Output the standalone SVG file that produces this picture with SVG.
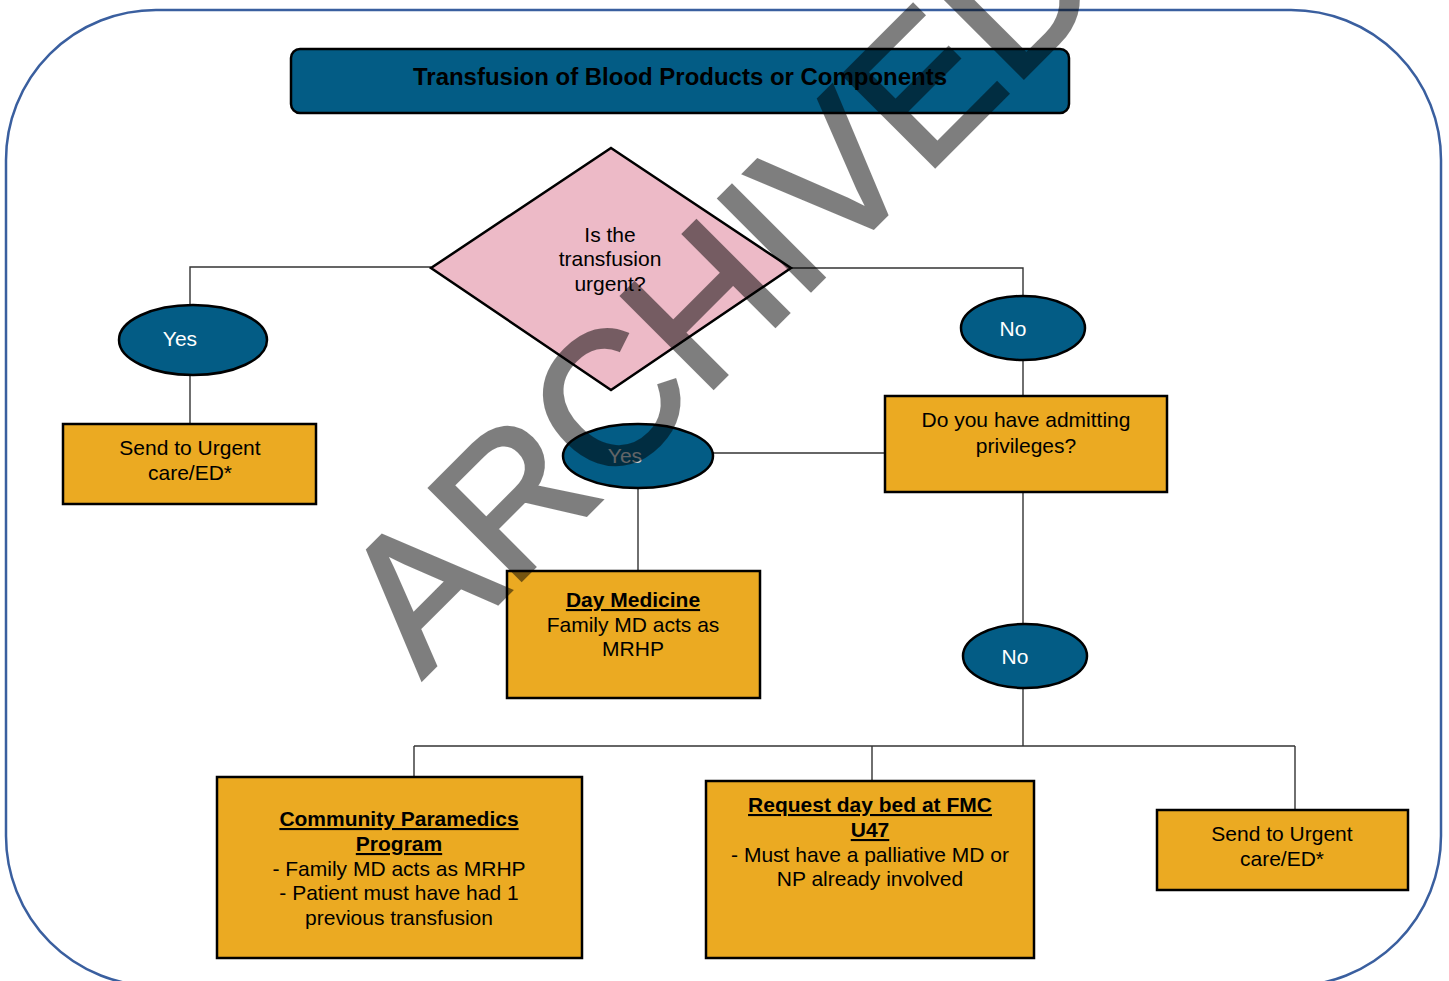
<svg xmlns="http://www.w3.org/2000/svg" width="1449" height="981" viewBox="0 0 1449 981">
<style>
  text { font-family: "Liberation Sans", Arial, sans-serif; text-anchor: middle; }
  .box { fill: #EBAA22; stroke: #000; stroke-width: 2.5; }
  .oval { fill: #035C85; stroke: #000; stroke-width: 2.5; }
  .t { font-size: 21px; fill: #000; }
  .b { font-weight: bold; text-decoration: underline; }
  .w { font-size: 21px; fill: #fff; }
  .conn { fill: none; stroke: #333; stroke-width: 1.4; }
</style>
<rect width="1449" height="981" fill="#fff"/>
<rect id="frame" x="6" y="10" width="1435" height="976" rx="150" ry="150" fill="none" stroke="#3A5F9F" stroke-width="2.5"/>

<g id="connectors">
  <polyline class="conn" points="431,267 190,267 190,305"/>
  <line class="conn" x1="190" y1="375" x2="190" y2="424"/>
  <polyline class="conn" points="791,268 1023,268 1023,296"/>
  <line class="conn" x1="1023" y1="360" x2="1023" y2="396"/>
  <line class="conn" x1="885" y1="453" x2="713" y2="453"/>
  <line class="conn" x1="638" y1="488" x2="638" y2="571"/>
  <line class="conn" x1="1023" y1="492" x2="1023" y2="624"/>
  <line class="conn" x1="1023" y1="688" x2="1023" y2="746"/>
  <line class="conn" x1="414" y1="746" x2="1295" y2="746"/>
  <line class="conn" x1="414" y1="746" x2="414" y2="777"/>
  <line class="conn" x1="872" y1="746" x2="872" y2="781"/>
  <line class="conn" x1="1295" y1="746" x2="1295" y2="810"/>
</g>

<g id="title">
  <rect x="291" y="49" width="778" height="64" rx="9" ry="9" fill="#035C85" stroke="#000" stroke-width="2.5"/>
  <text x="680" y="85" font-size="23.5" font-weight="bold" textLength="534" lengthAdjust="spacingAndGlyphs">Transfusion of Blood Products or Components</text>
</g>

<g id="decision">
  <polygon points="611,148 791,268 611,390 431,268" fill="#EDBAC7" stroke="#000" stroke-width="2.5"/>
  <text class="t" x="610" y="242">Is the</text>
  <text class="t" x="610" y="266">transfusion</text>
  <text class="t" x="610" y="291">urgent?</text>
</g>

<g id="yes-left">
  <ellipse class="oval" cx="193" cy="340" rx="74" ry="35"/>
  <text class="w" x="180" y="346">Yes</text>
</g>

<g id="urgent-left">
  <rect class="box" x="63" y="424" width="253" height="80"/>
  <text class="t" x="190" y="455">Send to Urgent</text>
  <text class="t" x="190" y="480">care/ED*</text>
</g>

<g id="no-top">
  <ellipse class="oval" cx="1023" cy="328" rx="62" ry="32"/>
  <text class="w" x="1013" y="336">No</text>
</g>

<g id="admitting">
  <rect class="box" x="885" y="396" width="282" height="96"/>
  <text class="t" x="1026" y="427">Do you have admitting</text>
  <text class="t" x="1026" y="453">privileges?</text>
</g>

<g id="yes-mid">
  <ellipse class="oval" cx="638" cy="456" rx="75" ry="32"/>
  <text x="625" y="463" font-size="21" fill="#C5CBD0">Yes</text>
</g>

<g id="day-medicine">
  <rect class="box" x="507" y="571" width="253" height="127"/>
  <text class="t b" x="633" y="607">Day Medicine</text>
  <text class="t" x="633" y="632">Family MD acts as</text>
  <text class="t" x="633" y="656">MRHP</text>
</g>

<g id="no-bottom">
  <ellipse class="oval" cx="1025" cy="656" rx="62" ry="32"/>
  <text class="w" x="1015" y="664">No</text>
</g>

<g id="community">
  <rect class="box" x="217" y="777" width="365" height="181"/>
  <text class="t b" x="399" y="826">Community Paramedics</text>
  <text class="t b" x="399" y="851">Program</text>
  <text class="t" x="399" y="876">- Family MD acts as MRHP</text>
  <text class="t" x="399" y="900">- Patient must have had 1</text>
  <text class="t" x="399" y="925">previous transfusion</text>
</g>

<g id="request">
  <rect class="box" x="706" y="781" width="328" height="177"/>
  <text class="t b" x="870" y="812">Request day bed at FMC</text>
  <text class="t b" x="870" y="837">U47</text>
  <text class="t" x="870" y="862">- Must have a palliative MD or</text>
  <text class="t" x="870" y="886">NP already involved</text>
</g>

<g id="urgent-right">
  <rect class="box" x="1157" y="810" width="251" height="80"/>
  <text class="t" x="1282" y="841">Send to Urgent</text>
  <text class="t" x="1282" y="866">care/ED*</text>
</g>

<g id="watermark" opacity="0.5">
  <text x="0" y="0" transform="translate(422,679) rotate(-45)" font-size="188" fill="#000" stroke="#000" stroke-width="4" stroke-linejoin="miter" style="text-anchor:start">ARCHIVED</text>
</g>
</svg>
